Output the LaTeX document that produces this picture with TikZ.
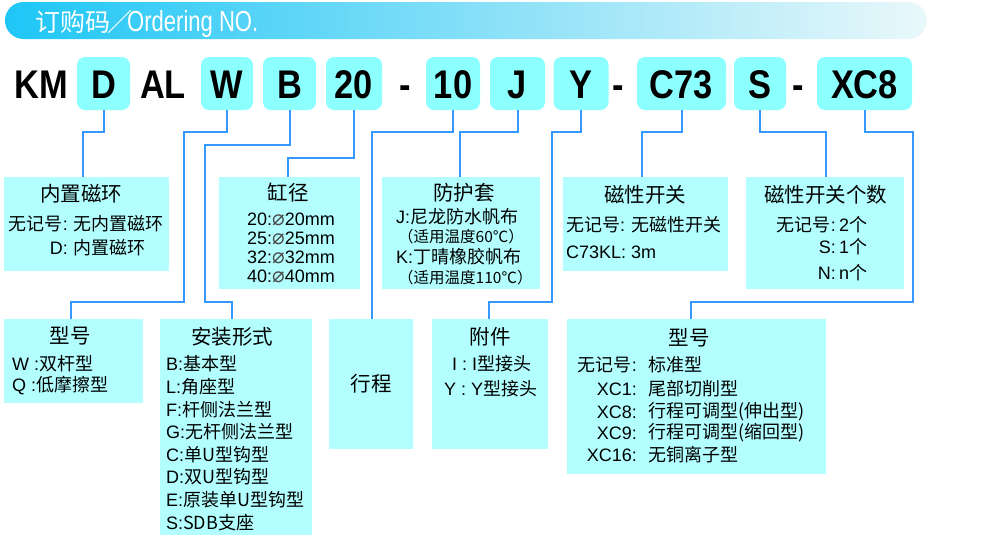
\documentclass[tikz,border=0pt]{standalone}
\usepackage{fontspec}
\setmainfont{Liberation Sans}
\newfontfamily\cjk{Noto Sans CJK SC}
\newfontfamily\hdrfont[FakeStretch=0.76]{Liberation Sans}
\newfontfamily\codefont[FakeStretch=0.86]{Liberation Sans}
\newfontfamily\dejavu{DejaVu Sans}
\definecolor{hdrL}{HTML}{1EC6F6}
\definecolor{hdrR}{HTML}{EAF8FA}
\definecolor{codefill}{HTML}{8CFFFF}
\definecolor{boxfill}{HTML}{B3FFFF}
\definecolor{connblue}{HTML}{3399FF}
\newcommand\dia{{\dejavu\fontsize{21}{21}\selectfont\color{black!70}⌀}}
\tikzset{
  codebox/.style={fill=codefill, rounded corners=8pt, minimum height=53pt, inner sep=0pt,
    text height=29pt, text depth=0pt, font=\codefont\bfseries\fontsize{40}{40}\selectfont},
  codetext/.style={inner sep=0pt, text height=29pt, text depth=0pt,
    font=\codefont\bfseries\fontsize{40}{40}\selectfont},
  descbox/.style={fill=boxfill, inner sep=0pt},
  title/.style={inner sep=0pt, font=\cjk\fontsize{20.5}{20.5}\selectfont},
  body/.style={inner sep=0pt, font=\fontsize{18}{18}\selectfont},
  small/.style={inner sep=0pt, font=\cjk\fontsize{15.5}{15.5}\selectfont},
  conn/.style={draw=connblue, line width=2pt}
}
\begin{document}
\begin{tikzpicture}[x=1pt,y=-1pt]
\useasboundingbox (0,0) rectangle (993,536);
% header
\shade[left color=hdrL, right color=hdrR, rounded corners=18.5pt] (5,2) rectangle (927,39);
\node[anchor=base west, inner sep=0pt, text=white] (hdr) at (35,31)
  {{\cjk\fontsize{25}{25}\selectfont 订购码\kern-3pt／\kern-5pt}{\hdrfont\fontsize{29}{29}\selectfont Ordering NO.}};
% code row
\node[codetext] (tKM) at (41.5,83.5) {KM};
\node[codebox, minimum width=53pt] (bD) at (103.5,83.5) {D};
\node[codetext] (tAL) at (163,83.5) {AL};
\node[codebox, minimum width=52pt] (bW) at (227,83.5) {W};
\node[codebox, minimum width=53pt] (bB) at (289.5,83.5) {B};
\node[codebox, minimum width=56pt] (b20) at (354,83.5) {20};
\node[codetext] (tDash1) at (405,83.5) {-};
\node[codebox, minimum width=54pt] (b10) at (453,83.5) {10};
\node[codebox, minimum width=55pt] (bJ) at (517.5,83.5) {J};
\node[codebox, minimum width=55pt] (bY) at (581,83.5) {Y};
\node[codetext] (tDash2) at (618.5,83.5) {-};
\node[codebox, minimum width=89pt] (bC) at (681.5,83.5) {C73};
\node[codebox, minimum width=52pt] (bS) at (760,83.5) {S};
\node[codetext] (tDash3) at (798,83.5) {-};
\node[codebox, minimum width=95pt] (bX) at (864.5,83.5) {XC8};
% description boxes
\node[descbox, minimum width=165pt, minimum height=94pt] (dMag) at (86.5,224) {};
\node[descbox, minimum width=141pt, minimum height=112pt] (dBore) at (289.5,233) {};
\node[descbox, minimum width=158pt, minimum height=112pt] (dBoot) at (461,233) {};
\node[descbox, minimum width=165pt, minimum height=94pt] (dSw) at (645.5,224) {};
\node[descbox, minimum width=158pt, minimum height=112pt] (dNum) at (825,233) {};
\node[descbox, minimum width=139pt, minimum height=84pt] (dType) at (73.5,361) {};
\node[descbox, minimum width=152pt, minimum height=216pt] (dMount) at (236,427) {};
\node[descbox, minimum width=84pt, minimum height=130pt, font=\cjk\fontsize{20.5}{20.5}\selectfont] (dStroke) at (371,384) {行程};
\node[descbox, minimum width=116pt, minimum height=130pt] (dAcc) at (490,384) {};
\node[descbox, minimum width=259pt, minimum height=155pt] (dModel) at (696.5,396.5) {};
% connectors
\draw[conn] (bD.south) |- (83,132) -- ([xshift=-3.5pt]dMag.north);
\draw[conn] (bW.south) |- (184,132) -- (184,302) -| ([xshift=-2.5pt]dType.north);
\draw[conn] (bB.south) |- (205,145) -- (205,302) -| ([xshift=-4pt]dMount.north);
\draw[conn] (b20.south) |- (288,158) -- ([xshift=-1.5pt]dBore.north);
\draw[conn] (b10.south) |- (372,132) -- ([xshift=1pt]dStroke.north);
\draw[conn] (bJ.south) |- (460,132) -- ([xshift=-1pt]dBoot.north);
\draw[conn] (bY.south) |- (552,132) -- (552,302) -| ([xshift=-1pt]dAcc.north);
\draw[conn] (bC.south) |- (642,132) -- ([xshift=-3.5pt]dSw.north);
\draw[conn] (bS.south) |- (826,132) -- ([xshift=1pt]dNum.north);
\draw[conn] (bX.south) |- (913,132) -- (913,302) -| ([xshift=-5.5pt]dModel.north);
% texts: 内置磁环
\node[title] (tMag) at (81,194) {内置磁环};
\node[body, anchor=east] (tMag1a) at (68,224) {{\cjk 无记号}:};
\node[body, anchor=west] (tMag1b) at (73,224) {\cjk 无内置磁环};
\node[body, anchor=east] (tMag2a) at (68,248) {D:};
\node[body, anchor=west] (tMag2b) at (73,248) {\cjk 内置磁环};
% 缸径
\node[title] (tBore) at (288,193) {缸径};
\node[body, anchor=west] (tBo1) at (247,219) {20:\dia20mm};
\node[body, anchor=west] (tBo2) at (247,238) {25:\dia25mm};
\node[body, anchor=west] (tBo3) at (247,257) {32:\dia32mm};
\node[body, anchor=west] (tBo4) at (247,276) {40:\dia40mm};
% 防护套
\node[title] (tBoot) at (464,193) {防护套};
\node[body, anchor=west] (tBt1) at (396,217) {J:{\cjk 尼龙防水帆布}};
\node[small, anchor=west] (tBt2) at (398,237) {（适用温度60℃）};
\node[body, anchor=west] (tBt3) at (396,257) {K:{\cjk 丁晴橡胶帆布}};
\node[small, anchor=west] (tBt4) at (398,278) {（适用温度110℃）};
% 磁性开关
\node[title] (tSw) at (645,195) {磁性开关};
\node[body, anchor=west] (tSw1) at (566,225) {{\cjk 无记号}: {\cjk 无磁性开关}};
\node[body, anchor=west] (tSw2) at (566,252) {C73KL: 3m};
% 磁性开关个数
\node[title] (tNum) at (825.5,195) {磁性开关个数};
\node[body, anchor=east] (tN1a) at (836,225) {{\cjk 无记号}:};
\node[body, anchor=west] (tN1b) at (839,225) {2{\cjk 个}};
\node[body, anchor=east] (tN2a) at (836,247) {S:};
\node[body, anchor=west] (tN2b) at (839,247) {1{\cjk 个}};
\node[body, anchor=east] (tN3a) at (836,273) {N:};
\node[body, anchor=west] (tN3b) at (839,273) {n{\cjk 个}};
% 型号 left
\node[title] (tType) at (70,336) {型号};
\node[body, anchor=west] (tT1) at (12,364) {W :{\cjk 双杆型}};
\node[body, anchor=west] (tT2) at (12,386) {Q :{\cjk 低摩擦型}};
% 安装形式
\node[title] (tMount) at (232,337) {安装形式};
\node[body, anchor=west] (tM1) at (166,364) {B:{\cjk 基本型}};
\node[body, anchor=west] (tM2) at (166,386.6) {L:{\cjk 角座型}};
\node[body, anchor=west] (tM3) at (166,409.2) {F:{\cjk 杆侧法兰型}};
\node[body, anchor=west] (tM4) at (166,431.8) {G:{\cjk 无杆侧法兰型}};
\node[body, anchor=west] (tM5) at (166,454.4) {C:{\cjk 单U型钩型}};
\node[body, anchor=west] (tM6) at (166,477) {D:{\cjk 双U型钩型}};
\node[body, anchor=west] (tM7) at (166,499.6) {E:{\cjk 原装单U型钩型}};
\node[body, anchor=west] (tM8) at (166,522.2) {S:{\cjk SDB支座}};
% 附件
\node[title] (tAcc) at (490,337) {附件};
\node[body, anchor=west] (tA1) at (452,364) {I : I{\cjk 型接头}};
\node[body, anchor=west] (tA2) at (444,389) {Y : Y{\cjk 型接头}};
% 型号 right
\node[title] (tModel) at (689,338) {型号};
\node[body, anchor=east] (tR1a) at (637,365) {{\cjk 无记号}:};
\node[body, anchor=west] (tR1b) at (648,365) {\cjk 标准型};
\node[body, anchor=east] (tR2a) at (637,389) {XC1:};
\node[body, anchor=west] (tR2b) at (648,389) {\cjk 尾部切削型};
\node[body, anchor=east] (tR3a) at (637,412) {XC8:};
\node[body, anchor=west] (tR3b) at (648,412) {\cjk 行程可调型(伸出型)};
\node[body, anchor=east] (tR4a) at (637,433) {XC9:};
\node[body, anchor=west] (tR4b) at (648,433) {\cjk 行程可调型(缩回型)};
\node[body, anchor=east] (tR5a) at (637,455) {XC16:};
\node[body, anchor=west] (tR5b) at (648,455) {\cjk 无铜离子型};
\end{tikzpicture}
\end{document}
